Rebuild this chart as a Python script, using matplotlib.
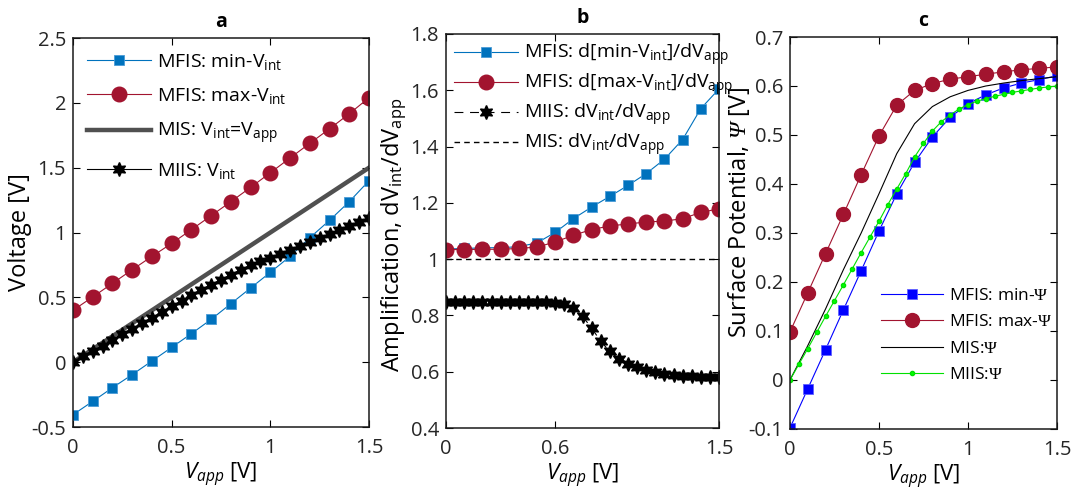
import numpy as np
import matplotlib
matplotlib.use("Agg")
import matplotlib.pyplot as plt

plt.rcParams['font.family'] = ['Open Sans', 'DejaVu Sans']
plt.rcParams['mathtext.fontset'] = 'custom'
plt.rcParams['mathtext.rm'] = 'Open Sans'
plt.rcParams['mathtext.it'] = 'Open Sans:italic'
plt.rcParams['mathtext.sf'] = 'Liberation Serif'
plt.rcParams['mathtext.cal'] = 'Liberation Serif:italic'
plt.rcParams['xtick.direction'] = 'in'
plt.rcParams['ytick.direction'] = 'in'

# ==============================
# -------- DATA ----------------
# ==============================

v_coarse = [0.0, 0.1, 0.2, 0.3, 0.4, 0.5, 0.6, 0.7, 0.8, 0.9, 1.0, 1.1, 1.2, 1.3, 1.4, 1.5]
v_fine = [0.0, 0.05, 0.1, 0.15, 0.2, 0.25, 0.3, 0.35, 0.4, 0.45, 0.5, 0.55, 0.6, 0.65, 0.7, 0.75,
          0.8, 0.85, 0.9, 0.95, 1.0, 1.05, 1.1, 1.15, 1.2, 1.25, 1.3, 1.35, 1.4, 1.45, 1.5]

# panel a
a_min_vint = [-0.405, -0.302, -0.197, -0.096, 0.009, 0.114, 0.22, 0.33, 0.451, 0.572,
              0.693, 0.816, 0.96, 1.094, 1.238, 1.40]
a_max_vint = [0.40, 0.503, 0.608, 0.713, 0.816, 0.916, 1.022, 1.13, 1.238, 1.348,
              1.461, 1.575, 1.688, 1.80, 1.916, 2.04]
a_mis = [0.0, 1.5]
a_mis_x = [0.0, 1.5]
a_miis_vint = [0.0, 0.045, 0.086, 0.127, 0.171, 0.215, 0.258, 0.30, 0.343, 0.387, 0.431,
               0.472, 0.515, 0.559, 0.598, 0.636, 0.675, 0.713, 0.747, 0.778, 0.806,
               0.837, 0.868, 0.898, 0.929, 0.958, 0.986, 1.017, 1.048, 1.078, 1.11]

# panel b
b_min_amp = [1.036, 1.038, 1.04, 1.041, 1.044, 1.058, 1.095, 1.144, 1.185, 1.223,
             1.262, 1.304, 1.355, 1.425, 1.535, 1.605]
b_max_amp = [1.034, 1.034, 1.035, 1.035, 1.038, 1.043, 1.061, 1.085, 1.105, 1.118,
             1.125, 1.132, 1.135, 1.144, 1.166, 1.179]
b_miis_amp = [0.848, 0.848, 0.848, 0.848, 0.848, 0.848, 0.848, 0.848, 0.848, 0.848, 0.848,
              0.847, 0.845, 0.840, 0.826, 0.797, 0.755, 0.708, 0.672, 0.645, 0.627,
              0.616, 0.607, 0.599, 0.593, 0.590, 0.586, 0.584, 0.582, 0.580, 0.580]
b_mis_amp = [1.0, 1.0]
b_mis_x = [0.0, 1.5]

# panel c
c_min_psi = [-0.098, -0.018, 0.062, 0.143, 0.223, 0.304, 0.38, 0.444, 0.496, 0.536,
             0.564, 0.582, 0.596, 0.606, 0.613, 0.621]
c_max_psi = [0.098, 0.178, 0.258, 0.338, 0.419, 0.498, 0.561, 0.591, 0.605, 0.614,
             0.619, 0.624, 0.629, 0.633, 0.636, 0.639]
c_mis_psi = [0.0, 0.07, 0.145, 0.225, 0.30, 0.38, 0.462, 0.523, 0.558, 0.578,
             0.591, 0.60, 0.606, 0.611, 0.615, 0.619]
c_miis_psi = [0.0, 0.032, 0.064, 0.097, 0.13, 0.162, 0.194, 0.227, 0.26, 0.292, 0.324,
              0.358, 0.39, 0.421, 0.455, 0.483, 0.508, 0.527, 0.541, 0.553, 0.562,
              0.569, 0.574, 0.579, 0.583, 0.587, 0.59, 0.593, 0.596, 0.598, 0.60]

a_yticks = [-0.5, 0, 0.5, 1, 1.5, 2, 2.5]
a_ylabels = ['-0.5', '0', '0.5', '1', '1.5', '2', '2.5']
b_yticks = [0.4, 0.6, 0.8, 1.0, 1.2, 1.4, 1.6, 1.8]
b_ylabels = ['0.4', '0.6', '0.8', '1', '1.2', '1.4', '1.6', '1.8']
c_yticks = [-0.1, 0, 0.1, 0.2, 0.3, 0.4, 0.5, 0.6, 0.7]
c_ylabels = ['-0.1', '0', '0.1', '0.2', '0.3', '0.4', '0.5', '0.6', '0.7']
ac_xticks = [0, 0.5, 1, 1.5]
ac_xlabels = ['0', '0.5', '1', '1.5']
b_xticks = [0, 0.6, 1.5]
b_xlabels = ['0', '0.6', '1.5']

BLUE = '#0072BD'
RED = '#A2142F'
GRAY = '#505050'
TICK_COLOR = '#262626'
STAR = (6, 1, 0)   # six-pointed star, like MATLAB hexagram

# ==============================
# -------- FIGURE --------------
# ==============================

fig = plt.figure(figsize=(10.86, 4.94), dpi=100)
ax_a = fig.add_axes([0.0672, 0.1356, 0.2726, 0.7874])
ax_b = fig.add_axes([0.4107, 0.1336, 0.2514, 0.7976])
ax_c = fig.add_axes([0.7274, 0.1316, 0.2459, 0.7935])


def style_axes(ax, xticks, xlabels, yticks, ylabels, title):
    ax.set_xticks(xticks)
    ax.set_xticklabels(xlabels)
    ax.set_yticks(yticks)
    ax.set_yticklabels(ylabels)
    ax.tick_params(which='both', top=True, right=True, length=5, width=0.8,
                   labelsize=14.5, labelcolor=TICK_COLOR)
    ax.tick_params(axis='y', pad=5)
    ax.tick_params(axis='x', pad=8)
    for s in ax.spines.values():
        s.set_linewidth(1.1)
        s.set_color('#1a1a1a')
    ax.set_title(title, fontsize=14, fontweight='bold', pad=8)
    ax.set_xlabel('$V_{app}$ [V]', fontsize=16, labelpad=2)


# ---- panel a ----
ax_a.plot(v_coarse, a_min_vint, '-s', color=BLUE, lw=0.8, ms=7.5,
          markerfacecolor=BLUE, markeredgecolor='#4a9bd6', markeredgewidth=0.6,
          label='MFIS: min-V$_{\\mathregular{int}}$')
ax_a.plot(v_coarse, a_max_vint, '-o', color=RED, lw=0.8, ms=10.5,
          markerfacecolor=RED, markeredgecolor=RED,
          label='MFIS: max-V$_{\\mathregular{int}}$')
ax_a.plot(a_mis_x, a_mis, '-', color=GRAY, lw=3.2,
          label='MIS: V$_{\\mathregular{int}}$=V$_{\\mathregular{app}}$')
ax_a.plot(v_fine, a_miis_vint, '-', marker=STAR, color='black', lw=0.8, ms=10,
          label='MIIS: V$_{\\mathregular{int}}$')
ax_a.set_xlim(0, 1.5)
ax_a.set_ylim(-0.5, 2.5)
style_axes(ax_a, ac_xticks, ac_xlabels, a_yticks, a_ylabels, 'a')
ax_a.set_ylabel('Voltage [V]', fontsize=17)
ax_a.yaxis.set_label_coords(-0.139, 0.5)
ax_a.legend(loc='upper left', frameon=False, fontsize=14, handlelength=3.3,
            handletextpad=0.3, labelspacing=0.75, borderaxespad=0.2,
            borderpad=0.5)

# ---- panel b ----
ax_b.plot(v_coarse, b_min_amp, '-s', color=BLUE, lw=0.8, ms=7.5,
          markerfacecolor=BLUE, markeredgecolor='#4a9bd6', markeredgewidth=0.6,
          label='MFIS: d[min-V$_{\\mathregular{int}}$]/dV$_{\\mathregular{app}}$')
ax_b.plot(v_coarse, b_max_amp, '-o', color=RED, lw=0.8, ms=10.5,
          markerfacecolor=RED, markeredgecolor=RED,
          label='MFIS: d[max-V$_{\\mathregular{int}}$]/dV$_{\\mathregular{app}}$')
ax_b.plot(v_fine, b_miis_amp, '--', marker=STAR, color='black', lw=0.8, ms=10,
          dashes=(8, 6),
          label='MIIS: dV$_{\\mathregular{int}}$/dV$_{\\mathregular{app}}$')
ax_b.plot(b_mis_x, b_mis_amp, '--', color='black', lw=1.0, dashes=(4, 3),
          label='MIS: dV$_{\\mathregular{int}}$/dV$_{\\mathregular{app}}$')
ax_b.set_xlim(0, 1.5)
ax_b.set_ylim(0.4, 1.8)
style_axes(ax_b, b_xticks, b_xlabels, b_yticks, b_ylabels, 'b')
ax_b.set_ylabel('Amplification, dV$_{\\mathregular{int}}$/dV$_{\\mathregular{app}}$',
                fontsize=17)
ax_b.yaxis.set_label_coords(-0.137, 0.49)
ax_b.legend(loc='upper left', frameon=False, fontsize=14, handlelength=3.3,
            handletextpad=0.3, labelspacing=0.2, borderaxespad=0.2,
            borderpad=0.2)

# ---- panel c ----
ax_c.plot(v_coarse, c_min_psi, '-s', color='#0000FF', lw=0.8, ms=7,
          markerfacecolor='#0000FF', markeredgecolor='#6060ff', markeredgewidth=0.6,
          label='MFIS: min-$\\mathsf{\\Psi}$')
ax_c.plot(v_coarse, c_max_psi, '-o', color=RED, lw=0.8, ms=10,
          markerfacecolor=RED, markeredgecolor=RED,
          label='MFIS: max-$\\mathsf{\\Psi}$')
ax_c.plot(v_coarse, c_mis_psi, '-', color='black', lw=0.8,
          label='MIS:$\\mathsf{\\Psi}$')
ax_c.plot(v_fine, c_miis_psi, '-o', color='#00E000', lw=0.8, ms=3,
          markerfacecolor='#00FF00', markeredgecolor='#00E000',
          label='MIIS:$\\mathsf{\\Psi}$')
ax_c.set_xlim(0, 1.5)
ax_c.set_ylim(-0.1, 0.7)
style_axes(ax_c, ac_xticks, ac_xlabels, c_yticks, c_ylabels, 'c')
ax_c.set_ylabel('Surface Potential, $\\mathcal{\\Psi}$ [V]', fontsize=17)
ax_c.yaxis.set_label_coords(-0.142, 0.553)
ax_c.legend(loc='lower right', bbox_to_anchor=(1.02, 0.09), frameon=False,
            fontsize=12.5, handlelength=3.6, handletextpad=0.3, labelspacing=0.6,
            borderaxespad=0.2)

fig.savefig('out.png', dpi=100)
